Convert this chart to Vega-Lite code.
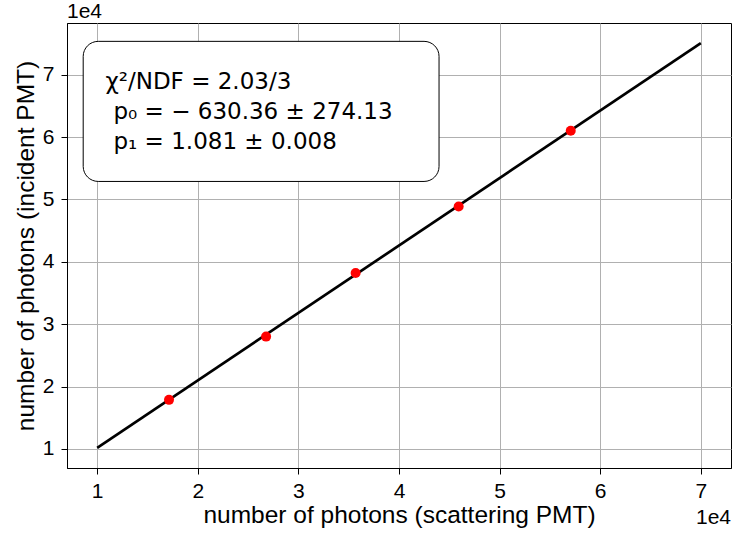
{
  "$schema": "https://vega.github.io/schema/vega-lite/v6.json",
  "autosize": {"type": "none"},
  "padding": {"left": 67, "top": 23, "right": 2, "bottom": 70},
  "width": 664,
  "height": 445,
  "background": "white",
  "config": {
    "font": "Liberation Sans",
    "view": {"stroke": "black", "strokeWidth": 1},
    "axis": {
      "domainColor": "black", "domainWidth": 1,
      "tickColor": "black", "tickWidth": 1, "tickSize": 6,
      "gridColor": "#b0b0b0", "gridWidth": 1, "gridOpacity": 1,
      "labelFont": "Liberation Sans", "labelFontSize": 21, "labelColor": "black",
      "titleFont": "Liberation Sans", "titleFontSize": 24.5, "titleFontWeight": "normal", "titleColor": "black"
    }
  },
  "datasets": {
    "fit": [
      {"scattering": 10000, "incident": 10179.6},
      {"scattering": 70000, "incident": 75039.6}
    ],
    "measured": [
      {"scattering": 17140, "incident": 17860},
      {"scattering": 26790, "incident": 28000},
      {"scattering": 35690, "incident": 38190},
      {"scattering": 45930, "incident": 48870},
      {"scattering": 57070, "incident": 61020}
    ]
  },
  "encoding": {
    "x": {"type": "quantitative", "scale": {"domain": [7000, 73000], "zero": false, "nice": false}},
    "y": {"type": "quantitative", "scale": {"domain": [6936.6, 78282.6], "zero": false, "nice": false}}
  },
  "layer": [
    {
      "data": {"name": "fit"},
      "mark": {"type": "line", "color": "black", "strokeWidth": 2.7},
      "encoding": {
        "x": {"field": "scattering", "type": "quantitative",
              "axis": {"title": "number of photons (scattering PMT)", "values": [10000, 20000, 30000, 40000, 50000, 60000, 70000], "labelExpr": "format(datum.value/10000, 'd')", "labelPadding": 6, "titlePadding": 2}},
        "y": {"field": "incident", "type": "quantitative",
              "axis": {"title": "number of photons (incident PMT)", "values": [10000, 20000, 30000, 40000, 50000, 60000, 70000], "labelExpr": "format(datum.value/10000, 'd')", "labelPadding": 7, "titlePadding": 4}}
      }
    },
    {
      "data": {"name": "measured"},
      "mark": {"type": "point", "filled": true, "color": "red", "opacity": 1, "size": 100},
      "encoding": {
        "x": {"field": "scattering", "type": "quantitative"},
        "y": {"field": "incident", "type": "quantitative"}
      }
    },
    {
      "data": {"values": [{}]},
      "mark": {"type": "rect", "fill": "white", "stroke": "black", "strokeWidth": 1, "cornerRadius": 15},
      "encoding": {
        "x": {"datum": 8610, "type": "quantitative"},
        "x2": {"datum": 43980},
        "y": {"datum": 75340, "type": "quantitative"},
        "y2": {"datum": 52880}
      }
    },
    {
      "data": {"values": [{}]},
      "mark": {"type": "text", "align": "left", "baseline": "alphabetic", "fontSize": 23, "font": "DejaVu Sans", "color": "black", "text": "χ²/NDF = 2.03/3"},
      "encoding": {
        "x": {"datum": 10820, "type": "quantitative"},
        "y": {"datum": 67710, "type": "quantitative"}
      }
    },
    {
      "data": {"values": [{}]},
      "mark": {"type": "text", "align": "left", "baseline": "alphabetic", "fontSize": 23, "font": "DejaVu Sans", "color": "black", "text": "p₀ = − 630.36 ± 274.13"},
      "encoding": {
        "x": {"datum": 11620, "type": "quantitative"},
        "y": {"datum": 62890, "type": "quantitative"}
      }
    },
    {
      "data": {"values": [{}]},
      "mark": {"type": "text", "align": "left", "baseline": "alphabetic", "fontSize": 23, "font": "DejaVu Sans", "color": "black", "text": "p₁ = 1.081 ± 0.008"},
      "encoding": {
        "x": {"datum": 11620, "type": "quantitative"},
        "y": {"datum": 58130, "type": "quantitative"}
      }
    },
    {
      "data": {"values": [{}]},
      "mark": {"type": "text", "align": "left", "baseline": "alphabetic", "fontSize": 21, "font": "Liberation Sans", "color": "black", "text": "1e4", "dy": -5, "clip": false},
      "encoding": {
        "x": {"datum": 7000, "type": "quantitative"},
        "y": {"datum": 78282.6, "type": "quantitative"}
      }
    },
    {
      "data": {"values": [{}]},
      "mark": {"type": "text", "align": "right", "baseline": "alphabetic", "fontSize": 21, "font": "Liberation Sans", "color": "black", "text": "1e4", "dy": 56, "clip": false},
      "encoding": {
        "x": {"datum": 73000, "type": "quantitative"},
        "y": {"datum": 6936.6, "type": "quantitative"}
      }
    }
  ]
}
